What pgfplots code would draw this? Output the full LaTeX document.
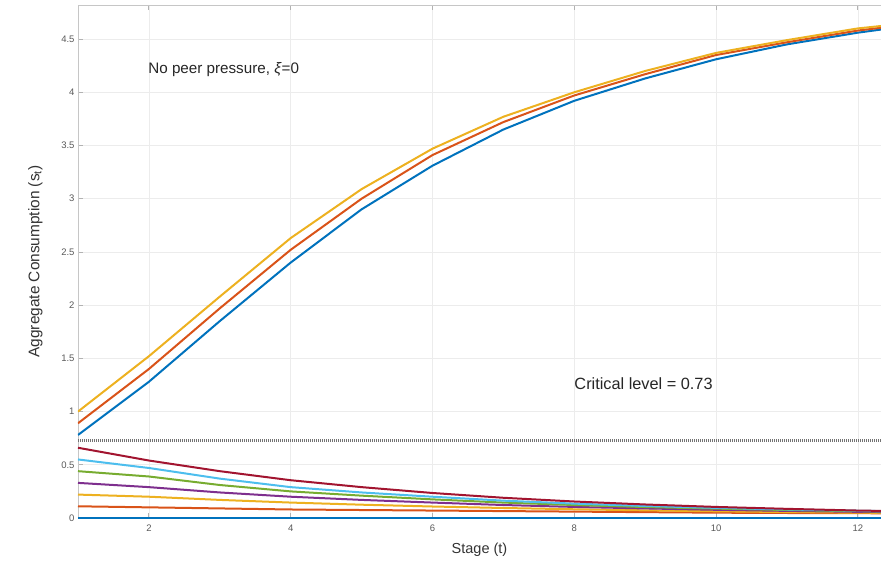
\documentclass[border=0pt]{standalone}
\usepackage{pgfplots}
\pgfplotsset{compat=1.18}
\usepackage{fontspec}
\setmainfont{Liberation Sans}
\definecolor{mB}{rgb}{0,0.447,0.741}
\definecolor{mO}{rgb}{0.85,0.325,0.098}
\definecolor{mY}{rgb}{0.929,0.694,0.125}
\definecolor{mP}{rgb}{0.494,0.184,0.556}
\definecolor{mG}{rgb}{0.466,0.674,0.188}
\definecolor{mC}{rgb}{0.301,0.745,0.933}
\definecolor{mR}{rgb}{0.635,0.078,0.184}
\begin{document}
\begin{tikzpicture}
\useasboundingbox (-78pt,-47pt) rectangle (803pt,518pt);
\begin{axis}[
  at={(0,0)}, anchor=south west,
  width=803pt, height=513pt, scale only axis,
  xmin=1, xmax=12.326, ymin=0, ymax=4.82,
  xtick={2,4,...,12}, ytick={0,0.5,...,4.5},
  xtick pos=both, ytick pos=left, tick align=inside,
  major tick length=5pt,
  grid=major, grid style={gray!15, line width=0.6pt},
  axis line style={gray!45, line width=0.8pt},
  tick style={gray!60, line width=0.8pt},
  tick label style={font=\fontsize{9.5}{10}\selectfont, text=black!65},
  xticklabel style={yshift=-3pt},
  /pgf/number format/assume math mode=true,
  xlabel={Stage (t)}, ylabel={Aggregate Consumption (s\textsubscript{t})},
  xlabel style={font=\fontsize{14.5}{16}\selectfont, text=black!80, at={(axis description cs:0.5,0)}, yshift=-21pt, anchor=north},
  ylabel style={font=\fontsize{15.4}{17}\selectfont, text=black!80, at={(axis description cs:0,0.5)}, yshift=32pt},
  every axis plot/.append style={line width=2pt},
  clip=true,
]
% upper curves
\addplot[mB] coordinates {(1,0.78)(2,1.28)(3,1.85)(4,2.40)(5,2.90)(6,3.31)(7,3.65)(8,3.92)(9,4.13)(10,4.31)(11,4.45)(12,4.56)(13,4.65)};
\addplot[mO] coordinates {(1,0.89)(2,1.40)(3,1.97)(4,2.52)(5,3.00)(6,3.41)(7,3.72)(8,3.97)(9,4.17)(10,4.35)(11,4.47)(12,4.58)(13,4.66)};
\addplot[mY] coordinates {(1,1.00)(2,1.52)(3,2.08)(4,2.63)(5,3.09)(6,3.47)(7,3.77)(8,4.00)(9,4.20)(10,4.37)(11,4.49)(12,4.60)(13,4.67)};
% critical level
\addplot[black!55, line width=2.8pt, dash pattern=on 1pt off 1pt] coordinates {(1,0.73)(13,0.73)};
% lower curves
\addplot[mB] coordinates {(1,0)(13,0)};
\addplot[mO] coordinates {(1,0.11)(2,0.10)(3,0.09)(4,0.08)(5,0.075)(6,0.07)(7,0.065)(8,0.06)(9,0.055)(10,0.05)(11,0.047)(12,0.045)(13,0.043)};
\addplot[mY] coordinates {(1,0.22)(2,0.20)(3,0.17)(4,0.145)(5,0.125)(6,0.108)(7,0.094)(8,0.082)(9,0.072)(10,0.063)(11,0.056)(12,0.05)(13,0.046)};
\addplot[mP] coordinates {(1,0.33)(2,0.29)(3,0.24)(4,0.20)(5,0.17)(6,0.145)(7,0.122)(8,0.104)(9,0.09)(10,0.077)(11,0.067)(12,0.058)(13,0.052)};
\addplot[mG] coordinates {(1,0.44)(2,0.39)(3,0.31)(4,0.25)(5,0.21)(6,0.175)(7,0.145)(8,0.122)(9,0.103)(10,0.088)(11,0.075)(12,0.064)(13,0.056)};
\addplot[mC] coordinates {(1,0.55)(2,0.47)(3,0.37)(4,0.29)(5,0.24)(6,0.20)(7,0.163)(8,0.135)(9,0.113)(10,0.095)(11,0.08)(12,0.068)(13,0.059)};
\addplot[mR] coordinates {(1,0.66)(2,0.54)(3,0.44)(4,0.355)(5,0.29)(6,0.235)(7,0.19)(8,0.155)(9,0.127)(10,0.104)(11,0.086)(12,0.07)(13,0.06)};
\node[anchor=west, font=\fontsize{15.2}{17}\selectfont, text=black!85, inner sep=0pt] at (axis cs:1.99,4.21) {No peer pressure, \textit{ξ}=0};
\node[anchor=west, font=\fontsize{16.3}{18}\selectfont, text=black!85, inner sep=0pt] at (axis cs:8.0,1.26) {Critical level = 0.73};
\end{axis}
\end{tikzpicture}
\end{document}
